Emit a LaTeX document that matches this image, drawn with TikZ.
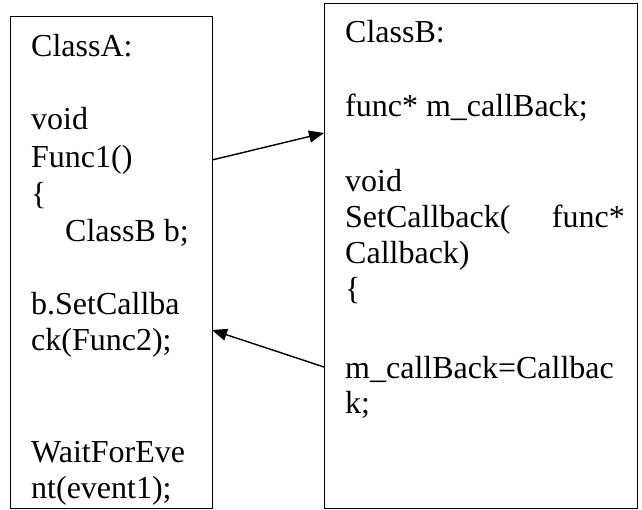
\documentclass[tikz,border=0pt]{standalone}
\usepackage{fontspec}
\setmainfont{Liberation Serif}
\usetikzlibrary{arrows.meta}
\begin{document}
\begin{tikzpicture}[x=1pt,y=-1pt,
  box/.style={draw=black, line width=1pt, inner sep=0pt, outer sep=0pt, anchor=north west},
  txt/.style={anchor=base west, inner sep=0pt, font=\fontsize{32}{36}\selectfont},
  txte/.style={anchor=base east, inner sep=0pt, font=\fontsize{32}{36}\selectfont},
  conn/.style={line width=1.4pt, -{Triangle[length=15pt,width=12pt]}}]
\useasboundingbox (0,0) rectangle (642,510);
\node[box, minimum width=201.5pt, minimum height=491pt] (boxA) at (10.5,17) {};
\node[box, minimum width=313pt, minimum height=504pt] (boxB) at (324,4) {};
% Box A text
\node[txt] (a1) at (31,57) {ClassA:};
\node[txt] (a2) at (31,130) {void};
\node[txt] (a3) at (31,168) {Func1()};
\node[txt] (a4) at (31,205) {\{};
\node[txt] (a5) at (65,242) {ClassB b;};
\node[txt] (a6) at (31,315) {b.SetCallba};
\node[txt] (a7) at (31,350) {ck(Func2);};
\node[txt] (a8) at (31,462) {WaitForEve};
\node[txt] (a9) at (31,498) {nt(event1);};
% Box B text
\node[txt] (b1) at (345,43) {ClassB:};
\node[txt] (b2) at (345,117) {func* m\_callBack;};
\node[txt] (b3) at (345,192) {void};
\node[txt] (b4) at (345,228) {SetCallback(};
\node[txte] (b4r) at (625,228) {func*};
\node[txt] (b5) at (345,264) {Callback)};
\node[txt] (b6) at (345,300) {\{};
\node[txt] (b7) at (345,378) {m\_callBack=Callbac};
\node[txt] (b8) at (345,413) {k;};
% connector end points on the box borders
\coordinate (pA1) at (boxA.north east |- 0,160);
\coordinate (pB1) at (boxB.north west |- 0,133);
\coordinate (pB2) at (boxB.north west |- 0,367);
\coordinate (pA2) at (boxA.north east |- 0,330);
\draw[conn] (pA1) -- (pB1);
\draw[conn] (pB2) -- (pA2);
\end{tikzpicture}
\end{document}
